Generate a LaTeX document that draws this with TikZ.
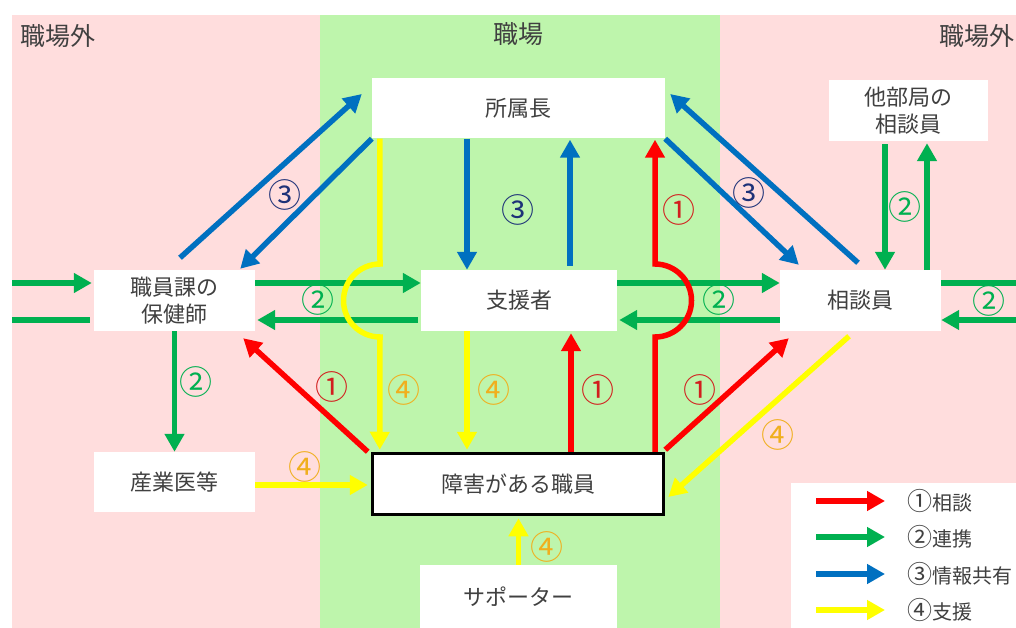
\documentclass[tikz,border=0pt]{standalone}
\usepackage{fontspec}
\setmainfont{Noto Sans CJK JP}
\usetikzlibrary{arrows.meta,calc}
\definecolor{pinkbg}{RGB}{255,221,221}
\definecolor{greenbg}{RGB}{190,245,172}
\definecolor{cRed}{RGB}{255,0,0}
\definecolor{cGreen}{RGB}{0,176,80}
\definecolor{cBlue}{RGB}{0,112,192}
\definecolor{cYellow}{RGB}{255,255,0}
\definecolor{lRed}{RGB}{210,30,30}
\definecolor{lGreen}{RGB}{0,176,80}
\definecolor{lBlue}{RGB}{30,50,120}
\definecolor{lOrange}{RGB}{240,175,30}
\definecolor{txt}{RGB}{64,64,64}
\newcommand{\cnum}[1]{{\fontsize{25}{20}\selectfont #1}}
\tikzset{
  box/.style={fill=white, text=txt, font=\fontsize{22}{27}\selectfont, align=center, inner sep=0pt},
  arr/.style={line width=5.5pt, -{Triangle[length=18pt,width=19pt]}},
  ln/.style={line width=5.5pt},
  num/.style={font=\fontsize{33}{33}\selectfont, inner sep=0pt},
  area/.style={font=\fontsize{25}{25}\selectfont, text=txt, inner sep=0pt},
  legtext/.style={font=\fontsize{20}{20}\selectfont, text=txt, inner sep=0pt, anchor=west},
}
\begin{document}
\begin{tikzpicture}[x=1pt,y=-1pt]
\useasboundingbox (0,0) rectangle (1016,628);
\fill[white] (0,0) rectangle (1016,628);
% regions
\fill[pinkbg] (12,15) rectangle (320,628);
\fill[greenbg] (320,15) rectangle (720,628);
\fill[pinkbg] (720,15) rectangle (1016,628);
\node[area, anchor=west] (outL) at (20,36) {職場外};
\node[area] (work) at (518,34) {職場};
\node[area, anchor=east] (outR) at (1015,36) {職場外};

% boxes
\node[box, minimum width=293pt, minimum height=60pt] (syozoku) at (518.5,108.5) {所属長};
\node[box, minimum width=159pt, minimum height=61pt] (tabu) at (908.5,110.5) {他部局の\\相談員};
\node[box, minimum width=161pt, minimum height=61pt] (hoken) at (174.5,300.5) {職員課の\\保健師};
\node[box, minimum width=196pt, minimum height=61pt] (shien) at (519,300.5) {支援者};
\node[box, minimum width=161pt, minimum height=61pt] (soudan) at (860.5,300.5) {相談員};
\node[box, minimum width=161pt, minimum height=60pt] (sangyo) at (174.5,482) {産業医等};
\node[box, draw=black, line width=3.5pt, minimum width=291pt, minimum height=61pt] (shokuin) at (518,484) {障害がある職員};
\node[box, minimum width=197pt, minimum height=63pt] (support) at (518.5,596.5) {サポーター};
\node[fill=white, inner sep=0pt, minimum width=225pt, minimum height=145pt, anchor=north west] (legend) at (791,483) {};

% free ends at the picture edges
\coordinate (inL) at (12,283);
\coordinate (outLe) at (12,320);
\coordinate (outRe) at (1016,283);
\coordinate (inR) at (1016,320);

% blue: information sharing
\draw[arr, cBlue] ($(hoken.north)+(5.5,-12)$) -- ($(syozoku.west)+(-10,-14.5)$);
\draw[arr, cBlue] (syozoku.south west) -- ($(hoken.north east)+(-15,-1)$);
\draw[arr, cBlue] ($(syozoku.south)+(-51.5,0)$) -- ($(shien.north)+(-52,0)$);
\draw[arr, cBlue] ($(shien.north)+(51,-4)$) -- ($(syozoku.south)+(51.5,1)$);
\draw[arr, cBlue] (syozoku.south east) -- ($(soudan.north west)+(19,-5)$);
\draw[arr, cBlue] ($(soudan.north)+(-2.5,-7)$) -- ($(syozoku.east)+(5,-14.5)$);

% green: cooperation
\draw[arr, cGreen] ($(tabu.south)+(-23.5,3)$) -- ($(soudan.north)+(24.5,0)$);
\draw[arr, cGreen] ($(soudan.north)+(66.5,0)$) -- ($(tabu.south)+(18.5,2)$);
\draw[arr, cGreen] ($(hoken.east)+(0,-17.5)$) -- ($(shien.west)+(0,-17.5)$);
\draw[arr, cGreen] ($(shien.west)+(-3,19.5)$) -- ($(hoken.east)+(2,19.5)$);
\draw[arr, cGreen] ($(shien.east)+(0,-17.5)$) -- ($(soudan.west)+(0,-17.5)$);
\draw[arr, cGreen] ($(soudan.west)+(0,19.5)$) -- ($(shien.east)+(2,19.5)$);
\draw[arr, cGreen] (inL) -- ($(hoken.west)+(-2,-17.5)$);
\draw[ln, cGreen] ($(hoken.west)+(-4,19.5)$) -- (outLe);
\draw[ln, cGreen] ($(soudan.east)+(0,-17.5)$) -- (outRe);
\draw[arr, cGreen] (inR) -- ($(soudan.east)+(0,19.5)$);
\draw[arr, cGreen] (hoken.south) -- (sangyo.north);

% red: consultation
\draw[arr, cRed] ($(shokuin.north west)+(-3,0)$) -- ($(hoken.south east)+(-12,7)$);
\draw[arr, cRed] ($(shokuin.north)+(53,0)$) -- ($(shien.south)+(52,2)$);
\draw[arr, cRed] ($(shokuin.north)+(137,0)$) -- (655,337) arc[start angle=90, end angle=-90, radius=36.5] -- ($(syozoku.south)+(136.5,1)$);
\draw[arr, cRed] ($(shokuin.north east)+(0,-2)$) -- ($(soudan.south west)+(9,7)$);

% yellow: support
\draw[arr, cYellow] ($(syozoku.south west)+(8,0)$) -- (380,264) arc[start angle=-90, end angle=-270, radius=36.5] -- ($(shokuin.north west)+(9,-2)$);
\draw[arr, cYellow] ($(shien.south)+(-52,0)$) -- ($(shokuin.north)+(-51,-2)$);
\draw[arr, cYellow] ($(sangyo.east)+(0,3)$) -- ($(shokuin.west)+(-3,1)$);
\draw[arr, cYellow] ($(soudan.south)+(-11.5,5)$) -- ($(shokuin.east)+(3,13)$);
\draw[arr, cYellow] (support.north) -- ($(shokuin.south)+(0.5,2)$);

% labels
\node[num, text=lBlue] (b1) at (285,195) {③};
\node[num, text=lBlue] (b2) at (518,210) {③};
\node[num, text=lBlue] (b3) at (749,193) {③};
\node[num, text=lGreen] (g1) at (905,207) {②};
\node[num, text=lGreen] (g2) at (318,300) {②};
\node[num, text=lGreen] (g3) at (719,300) {②};
\node[num, text=lGreen] (g4) at (989,301) {②};
\node[num, text=lGreen] (g5) at (196,382) {②};
\node[num, text=lRed] (r1) at (332,387) {①};
\node[num, text=lRed] (r2) at (598,390) {①};
\node[num, text=lRed] (r3) at (700,390) {①};
\node[num, text=lRed] (r4) at (679,210) {①};
\node[num, text=lOrange] (y1) at (404,390) {④};
\node[num, text=lOrange] (y2) at (494,390) {④};
\node[num, text=lOrange] (y3) at (305,467) {④};
\node[num, text=lOrange] (y4) at (778,435) {④};
\node[num, text=lOrange] (y5) at (547,547) {④};

% legend
\draw[arr, cRed] ($(legend.north west)+(25,18)$) -- ($(legend.north west)+(94,18)$);
\draw[arr, cGreen] ($(legend.north west)+(25,54)$) -- ($(legend.north west)+(94,54)$);
\draw[arr, cBlue] ($(legend.north west)+(25,91)$) -- ($(legend.north west)+(94,91)$);
\draw[arr, cYellow] ($(legend.north west)+(25,127)$) -- ($(legend.north west)+(94,127)$);
\node[legtext] (l1) at ($(legend.north west)+(116,18)$) {\cnum{①}相談};
\node[legtext] (l2) at ($(legend.north west)+(116,54)$) {\cnum{②}連携};
\node[legtext] (l3) at ($(legend.north west)+(116,91)$) {\cnum{③}情報共有};
\node[legtext] (l4) at ($(legend.north west)+(116,127)$) {\cnum{④}支援};
\end{tikzpicture}
\end{document}
